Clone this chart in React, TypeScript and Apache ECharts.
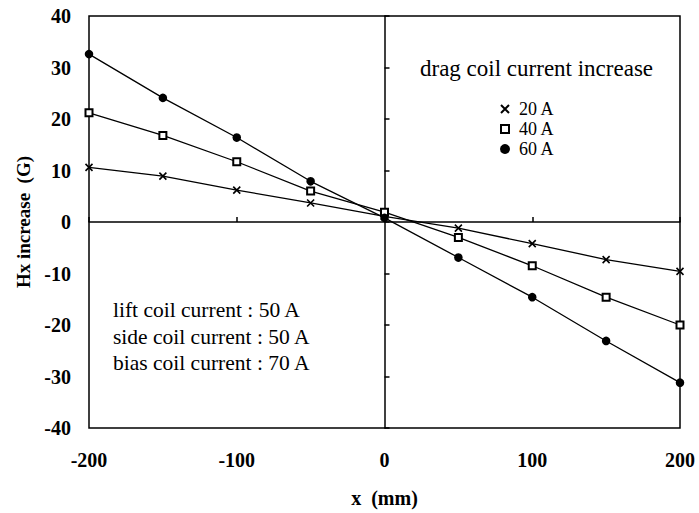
import React, { useEffect, useRef } from "react";
import * as echarts from "echarts";

const xValues = [-200, -150, -100, -50, 0, 50, 100, 150, 200];
const series20A = [10.6, 8.9, 6.2, 3.7, 1.1, -1.2, -4.2, -7.3, -9.6];
const series40A = [21.2, 16.8, 11.7, 6.0, 1.9, -3.0, -8.5, -14.6, -20.0];
const series60A = [32.6, 24.1, 16.4, 7.9, 0.8, -6.9, -14.6, -23.1, -31.2];
const seriesNames = ["20 A", "40 A", "60 A"];
const legendTitle = "drag coil current increase";
const noteLines = ["lift coil current : 50 A", "side coil current : 50 A", "bias coil current : 70 A"];
const xName = "x  (mm)";
const yName = "Hx increase  (G)";

const FONT = "'Liberation Serif', 'Times New Roman', serif";
const CROSS = "path://M0,0L10,10M10,0L0,10";

export default function App() {
  const ref = useRef<HTMLDivElement>(null);
  useEffect(() => {
    if (!ref.current) return;
    const chart = echarts.init(ref.current, null, { renderer: "svg" });
    const pair = (vals: number[]) => xValues.map((x, i) => [x, vals[i]]);
    const baseSeries = (name: string, vals: number[], symbol: string, size: number) => ({
      name,
      type: "line",
      data: pair(vals),
      xAxisIndex: 0,
      yAxisIndex: 0,
      symbol,
      symbolSize: size,
      showAllSymbol: true,
      lineStyle: { color: "#000", width: 1.3 },
      itemStyle: { color: "#000", borderColor: "#000", borderWidth: 1.6 },
      emphasis: { disabled: true },
      z: 3,
    });
    chart.setOption({
      animation: false,
      backgroundColor: "#fff",
      textStyle: { fontFamily: FONT },
      grid: {
        left: 89, right: 19, top: 16, bottom: 82,
        show: true, borderColor: "#000", borderWidth: 1.5, backgroundColor: "transparent",
        containLabel: false,
      },
      xAxis: [
        {
          type: "value", position: "bottom", min: -200, max: 200, interval: 100,
          axisLine: { show: false, onZero: false },
          axisTick: { show: false },
          splitLine: { show: false },
          axisLabel: { color: "#000", fontSize: 20, fontWeight: "bold", fontFamily: FONT, margin: 22 },
          name: xName, nameLocation: "middle", nameGap: 60,
          nameTextStyle: { color: "#000", fontSize: 20, fontWeight: "bold", fontFamily: FONT },
        },
        {
          type: "value", position: "top", min: -200, max: 200, interval: 100,
          axisLine: { show: true, onZero: true, onZeroAxisIndex: 0, lineStyle: { color: "#000", width: 1.5 } },
          axisTick: { show: true, inside: false, length: 5, lineStyle: { color: "#000", width: 1.5 } },
          axisLabel: { show: false },
          splitLine: { show: false },
        },
      ],
      yAxis: [
        {
          type: "value", position: "left", min: -40, max: 40, interval: 10,
          axisLine: { show: false, onZero: false },
          axisTick: { show: false },
          splitLine: { show: false },
          axisLabel: { color: "#000", fontSize: 20, fontWeight: "bold", fontFamily: FONT, margin: 18 },
          name: yName, nameLocation: "middle", nameGap: 54,
          nameTextStyle: { color: "#000", fontSize: 19, fontWeight: "bold", fontFamily: FONT },
        },
        {
          type: "value", position: "right", min: -40, max: 40, interval: 10,
          axisLine: { show: true, onZero: true, onZeroAxisIndex: 0, lineStyle: { color: "#000", width: 1.5 } },
          axisTick: { show: true, inside: false, length: 5, lineStyle: { color: "#000", width: 1.5 } },
          axisLabel: { show: false },
          splitLine: { show: false },
        },
      ],
      legend: {
        orient: "vertical",
        left: 495, top: 95,
        itemWidth: 8, itemHeight: 8, itemGap: 2,
        selectedMode: false,
        textStyle: { color: "#000", fontSize: 18, fontFamily: FONT, lineHeight: 18, padding: [0, 0, 0, 5] },
        data: [
          { name: seriesNames[0], icon: CROSS },
          { name: seriesNames[1], icon: "emptyRect" },
          { name: seriesNames[2], icon: "circle" },
        ],
      },
      graphic: [
        {
          type: "text", left: 420, top: 57,
          style: { text: legendTitle, fill: "#000", font: `23px ${FONT}` },
        },
        {
          type: "text", left: 113, top: 297,
          style: { text: noteLines.join("\n"), fill: "#000", font: `21.5px ${FONT}`, lineHeight: 26.5 },
        },
      ],
      series: [
        baseSeries(seriesNames[0], series20A, CROSS, 7),
        baseSeries(seriesNames[1], series40A, "emptyRect", 7),
        baseSeries(seriesNames[2], series60A, "circle", 7),
      ],
    });
    return () => chart.dispose();
  }, []);
  return (
    <div
      ref={ref}
      style={{ position: "absolute", left: 0, top: 0, width: 699, height: 513, background: "#fff" }}
    />
  );
}
